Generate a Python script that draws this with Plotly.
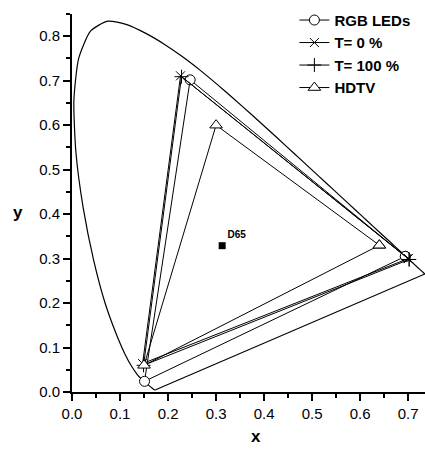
import plotly.graph_objects as go

# CIE 1931 spectral locus (x, y), 380 nm -> 700 nm
locus_x = [0.1741, 0.1738, 0.1733, 0.1726, 0.1714, 0.1689, 0.1644, 0.1566, 0.1510, 0.1440,
           0.1355, 0.1241, 0.1096, 0.0913, 0.0687, 0.0454, 0.0235, 0.0082, 0.0039, 0.0139,
           0.0389, 0.0743, 0.1142, 0.1547, 0.1929, 0.2296, 0.2658, 0.3016, 0.3373, 0.3731,
           0.4087, 0.4441, 0.4788, 0.5125, 0.5448, 0.5752, 0.6029, 0.6270, 0.6482, 0.6658,
           0.6801, 0.6915, 0.6998, 0.7079, 0.7140, 0.7190, 0.7230, 0.7260, 0.7283, 0.7300,
           0.7327, 0.7334, 0.7347]
locus_y = [0.0050, 0.0049, 0.0048, 0.0048, 0.0051, 0.0069, 0.0109, 0.0177, 0.0227, 0.0297,
           0.0399, 0.0578, 0.0868, 0.1327, 0.2007, 0.2950, 0.4127, 0.5384, 0.6548, 0.7502,
           0.8120, 0.8338, 0.8262, 0.8059, 0.7816, 0.7543, 0.7243, 0.6923, 0.6589, 0.6245,
           0.5896, 0.5547, 0.5202, 0.4866, 0.4544, 0.4242, 0.3965, 0.3725, 0.3514, 0.3340,
           0.3197, 0.3083, 0.3002, 0.2920, 0.2859, 0.2809, 0.2770, 0.2740, 0.2717, 0.2700,
           0.2673, 0.2666, 0.2653]
# Line of purples
purple_x = [0.7347, 0.1741]
purple_y = [0.2653, 0.0050]

# Gamut triangles (R, G, B, R)
rgb_x = [0.694, 0.246, 0.151, 0.694]
rgb_y = [0.305, 0.702, 0.024, 0.305]
t0_x = [0.700, 0.226, 0.147, 0.700]
t0_y = [0.300, 0.711, 0.064, 0.300]
t100_x = [0.702, 0.228, 0.149, 0.702]
t100_y = [0.298, 0.709, 0.060, 0.298]
hdtv_x = [0.640, 0.300, 0.150, 0.640]
hdtv_y = [0.330, 0.600, 0.060, 0.330]

d65_x = [0.3127]
d65_y = [0.329]

font = "Arial, Liberation Sans, sans-serif"

fig = go.Figure()
fig.add_trace(go.Scatter(x=locus_x, y=locus_y, mode="lines",
                         line=dict(color="black", width=1.2, shape="spline", smoothing=0.6),
                         showlegend=False, hoverinfo="skip"))
fig.add_trace(go.Scatter(x=purple_x, y=purple_y, mode="lines",
                         line=dict(color="black", width=1.2),
                         showlegend=False, hoverinfo="skip"))
fig.add_trace(go.Scatter(x=rgb_x, y=rgb_y, mode="lines+markers", name="RGB LEDs",
                         line=dict(color="black", width=1),
                         marker=dict(symbol="circle", size=10, color="white",
                                     line=dict(color="black", width=1))))
fig.add_trace(go.Scatter(x=t0_x, y=t0_y, mode="lines+markers", name="T= 0 %",
                         line=dict(color="black", width=1),
                         marker=dict(symbol="x-thin", size=9,
                                     line=dict(color="black", width=1))))
fig.add_trace(go.Scatter(x=t100_x, y=t100_y, mode="lines+markers", name="T= 100 %",
                         line=dict(color="black", width=1),
                         marker=dict(symbol="cross-thin", size=10,
                                     line=dict(color="black", width=1))))
fig.add_trace(go.Scatter(x=hdtv_x, y=hdtv_y, mode="lines+markers", name="HDTV",
                         line=dict(color="black", width=1),
                         marker=dict(symbol="triangle-up", size=11, color="white",
                                     line=dict(color="black", width=1))))
fig.add_trace(go.Scatter(x=d65_x, y=d65_y, mode="markers+text", text=["D65"],
                         textposition="top right",
                         textfont=dict(family=font, size=10, color="black", weight="bold"),
                         marker=dict(symbol="square", size=7, color="black"),
                         showlegend=False))

axis_common = dict(
    showline=True, linecolor="black", linewidth=2, automargin=False,
    ticks="outside", tickcolor="black", tickwidth=2, ticklen=7,
    showgrid=False, zeroline=False, mirror=False,
    tickfont=dict(family=font, size=15, color="black"),
    minor=dict(ticks="outside", ticklen=4, tickwidth=2, tickcolor="black", dtick=0.05),
)

fig.update_layout(
    width=425, height=449,
    margin=dict(l=72, r=0, t=14, b=57),
    plot_bgcolor="white", paper_bgcolor="white",
    xaxis=dict(range=[0, 0.735], dtick=0.1, tickformat=".1f", **axis_common),
    yaxis=dict(range=[0, 0.85], dtick=0.1, tickformat=".1f", **axis_common),
    legend=dict(x=0.63, y=1.027, xanchor="left", yanchor="top",
                bgcolor="rgba(0,0,0,0)", tracegroupgap=0,
                font=dict(family=font, size=15, color="black", weight="bold")),
    showlegend=True,
    annotations=[
        dict(text="<b>x</b>", xref="paper", yref="paper", x=0.521, y=-0.119,
             xanchor="center", yanchor="middle", showarrow=False,
             font=dict(family=font, size=17, color="black")),
        dict(text="<b>y</b>", xref="paper", yref="paper", x=-0.153, y=0.474,
             xanchor="center", yanchor="middle", showarrow=False,
             font=dict(family=font, size=17, color="black")),
    ],
)

fig.write_html("out.html", config={"displayModeBar": False},
               post_script="document.body.style.margin='0';document.body.style.overflow='hidden';")
